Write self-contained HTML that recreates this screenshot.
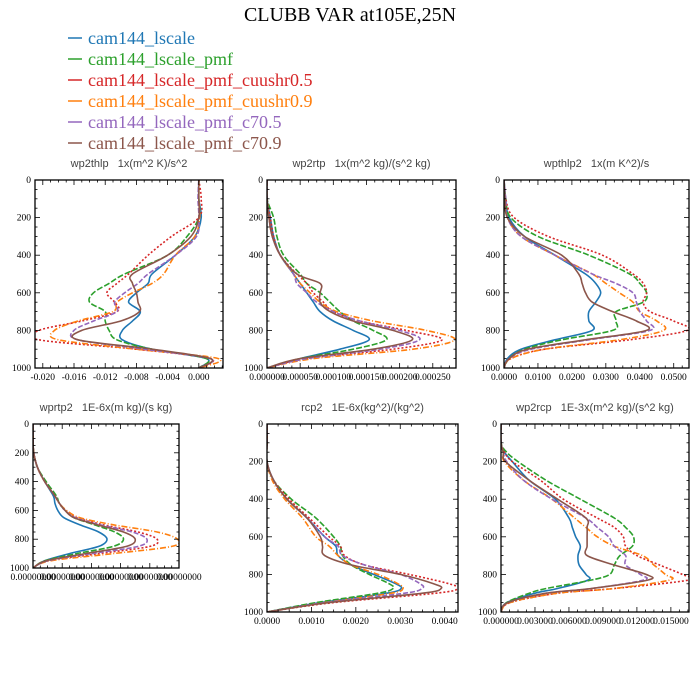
<!DOCTYPE html>
<html><head><meta charset="utf-8"><style>
body{margin:0;background:#fff}
svg{display:block}
.t{font-family:"Liberation Serif",serif;font-size:9.5px;fill:#000}
.pt{font-family:"Liberation Sans",sans-serif;font-size:11px;fill:#444;white-space:pre}
.lg{font-family:"Liberation Serif",serif;font-size:18px}
</style></head><body>
<svg id="chart" width="700" height="700" viewBox="0 0 700 700">
<text x="350" y="21" text-anchor="middle" font-family="Liberation Serif, serif" font-size="20">CLUBB VAR at105E,25N</text>
<g id="legend"></g>
<g id="panels"></g>
</svg>
<script>
const seriesNames=["cam144_lscale","cam144_lscale_pmf","cam144_lscale_pmf_cuushr0.5","cam144_lscale_pmf_cuushr0.9","cam144_lscale_pmf_c70.5","cam144_lscale_pmf_c70.9"];
const colors=["#1f77b4","#2ca02c","#d62728","#ff7f0e","#9467bd","#8c564b"];
const dashes=["","6,2","2,2","6,2,1,2","5,2",""];
const yTicks=[0,200,400,600,800,1000];

// wp2thlp
const p1Levels=[0,100,200,300,400,500,550,600,650,700,750,800,850,900,950,1000];
const p1Blue=[0,0,0.0003,-0.0005,-0.003,-0.006,-0.0065,-0.008,-0.009,-0.0075,-0.0085,-0.0098,-0.0098,-0.006,0.001,0];
const p1Green=[0,0,0,-0.0015,-0.004,-0.0095,-0.0115,-0.0135,-0.014,-0.012,-0.012,-0.0115,-0.0105,-0.006,0.001,0];
const p1Red=[0,0.0003,0,-0.0035,-0.0065,-0.009,-0.0105,-0.0118,-0.0108,-0.0105,-0.015,-0.0205,-0.0205,-0.008,0.0015,0];
const p1Orange=[0,0,0.0001,-0.0005,-0.003,-0.0045,-0.006,-0.0085,-0.0105,-0.011,-0.0155,-0.0185,-0.018,-0.008,0.0025,0];
const p1Purple=[0,-0.0001,0,-0.0003,-0.003,-0.0065,-0.0078,-0.0095,-0.0108,-0.0105,-0.0135,-0.016,-0.0155,-0.007,0.0015,0];
const p1Brown=[0,0,0,-0.001,-0.004,-0.0085,-0.0085,-0.008,-0.0078,-0.0076,-0.01,-0.015,-0.0155,-0.006,0.0015,0];
const p1TickVals=[-0.020,-0.016,-0.012,-0.008,-0.004,0.000];
const p1TickLabels=["-0.020","-0.016","-0.012","-0.008","-0.004","0.000"];

// wp2rtp (1e-5 units)
const p2Levels=[0,100,200,300,400,500,550,600,650,700,750,800,850,900,950,1000];
const p2Blue=[0,0,0.5,1,2,4,5,6,7,8,10,13,15.4,11,5,0];
const p2Green=[0,0,1,1.5,2.5,5,6,8,9.5,11,13,16,18,13,5,0];
const p2Red=[0,0,0.5,1,2,4.5,6,7,8.5,10,14,21,26.4,19,6,0];
const p2Orange=[0,0,0.3,0.8,2,4,5,6.5,8,10.5,16,24,28.3,22,7,0];
const p2Purple=[0,0,0.3,0.8,2,4,4.5,6,7.5,10,14,20,23,17,6,0];
const p2Brown=[0,0,0.3,0.8,2,4.5,8,8,8,9.5,13,19,21.9,16,5,0];
const p2TickVals=[0,5,10,15,20,25];
const p2TickLabels=["0.000000","0.000050","0.000100","0.000150","0.000200","0.000250"];

// wpthlp2 (1e-3 units)
const p3Levels=[0,100,200,300,400,500,550,600,650,700,750,800,850,900,950,1000];
const p3Blue=[0,0.5,1.5,6,15,24,27,28.5,27,25,25,26,15,5,1,0];
const p3Green=[0,0.5,2,10,25,37,40,42,41,33,33,32,17,6,1.5,0];
const p3Red=[0,0.5,3,13,29,38,41,42,41,43,50,54,37,12,2,0];
const p3Orange=[0,0.3,1,5,15,26,30,34,38,40,45,47,34,12,2,0];
const p3Purple=[0,0.5,1,5,15,26,33,38,39,40,42,43,25,8,1.5,0];
const p3Brown=[0,0.3,1,6,17,22,23,24,26,32,39,42,24,7,1.5,0];
const p3TickVals=[0,10,20,30,40,50];
const p3TickLabels=["0.0000","0.0100","0.0200","0.0300","0.0400","0.0500"];

// wprtp2
const p4Levels=[0,100,200,300,400,500,550,600,650,700,750,800,850,900,950,1000];
const p4Blue=[0,0,0.5,3,8,14,15,17,21,32,45,50.7,45,25,8,0];
const p4Green=[0,0,0.5,3,9,16,18,22,28,42,56,62,55,30,8,0];
const p4Red=[0,0,0.5,3,8,15,18,22,30,48,72,85,80,45,10,0];
const p4Orange=[0,0,0.5,3,8,15,18,23,32,55,85,99,95,55,12,0];
const p4Purple=[0,0,0.5,3,8,15,18,22,29,46,68,78,72,40,10,0];
const p4Brown=[0,0,0.5,3,8,15,18,22,28,44,62,70,64,36,9,0];
const p4TickVals=[0,20,40,60,80,100];
const p4TickLabels=["0.00000000","0.00000000","0.00000000","0.00000000","0.00000000","0.00000000"];

// rcp2 (1e-4 units)
const p5Levels=[0,100,200,300,400,500,600,650,700,750,800,850,875,900,950,1000];
const p5Blue=[0,0,0,1.5,4.5,9,13,15.5,16,19,24,29,30.2,27,12,0];
const p5Green=[0,0,0,1.5,5.5,11,15,16.5,17,19,23,27.5,28.4,25,11,0];
const p5Red=[0,0,0,1.5,5,9.5,14,16.5,17.5,22,32,41,43,38,15,0];
const p5Orange=[0,0,0,1.2,4,8,11,14,16,19,25,29.5,30.6,28,13,0];
const p5Purple=[0,0,0,1.5,4.5,9,13,16,17,22,30,34.5,34.9,31,13,0];
const p5Brown=[0,0,0,1.5,4.5,9,12,12.5,13,19,30,37.5,39.2,35,14,0];
const p5TickVals=[0,10,20,30,40];
const p5TickLabels=["0.0000","0.0010","0.0020","0.0030","0.0040"];

// wp2rcp (1e-3 units)
const p6Levels=[0,100,150,200,300,400,500,550,600,650,700,750,800,830,875,900,950,1000];
const p6Blue=[0,0,0.3,1,2.5,4.8,6,6.3,6.6,7,6.8,6.9,7.5,7.7,5,3,0.5,0];
const p6Green=[0,0,0.5,1.5,4,7,10,11,11.7,11.6,10.5,10,9.6,8,4,2.5,0.5,0];
const p6Red=[0,0,0.3,1,3.5,5.5,8.5,10,10.8,11,12,14,16,16.6,10,5,0.8,0];
const p6Orange=[0,0,0.2,0.3,2,4.5,6.5,7.5,8.5,10,12.5,13.5,14.5,14.9,10,5,0.8,0];
const p6Purple=[0,0,0.2,0.5,2,4.5,7.5,8.5,9.5,10,11,11,12.3,12.6,8,4,0.6,0];
const p6Brown=[0,0,0.2,0.4,2.5,5,7.5,7.6,7.6,7.6,7.6,10,12.8,13,8,4,0.6,0];
const p6TickVals=[0,3,6,9,12,15];
const p6TickLabels=["0.000000","0.003000","0.006000","0.009000","0.012000","0.015000"];

const NS="http://www.w3.org/2000/svg";
function mk(tag,attrs,parent){const e=document.createElementNS(NS,tag);for(const k in attrs)e.setAttribute(k,attrs[k]);parent.appendChild(e);return e;}
function smoothPath(P){
 let d='M'+P[0][0].toFixed(1)+','+P[0][1].toFixed(1);
 for(let i=0;i<P.length-1;i++){
  const p0=P[Math.max(0,i-1)],p1=P[i],p2=P[i+1],p3=P[Math.min(P.length-1,i+2)];
  const c1=[p1[0]+(p2[0]-p0[0])/6,p1[1]+(p2[1]-p0[1])/6];
  const c2=[p2[0]-(p3[0]-p1[0])/6,p2[1]-(p3[1]-p1[1])/6];
  d+=' C'+c1.map(v=>v.toFixed(1)).join(',')+' '+c2.map(v=>v.toFixed(1)).join(',')+' '+p2[0].toFixed(1)+','+p2[1].toFixed(1);
 }
 return d;
}

const panels=[
 {name:"wp2thlp",title:"wp2thlp   1x(m^2 K)/s^2",x0:35,x1:223,y0:180,y1:368,xmin:-0.021,xmax:0.0031,levels:p1Levels,series:[p1Blue,p1Green,p1Red,p1Orange,p1Purple,p1Brown],tv:p1TickVals,tl:p1TickLabels,minor:0.001},
 {name:"wp2rtp",title:"wp2rtp   1x(m^2 kg)/(s^2 kg)",x0:267,x1:456,y0:180,y1:368,xmin:0,xmax:28.5,levels:p2Levels,series:[p2Blue,p2Green,p2Red,p2Orange,p2Purple,p2Brown],tv:p2TickVals,tl:p2TickLabels,minor:1.25},
 {name:"wpthlp2",title:"wpthlp2   1x(m K^2)/s",x0:504,x1:689,y0:180,y1:368,xmin:0,xmax:54.5,levels:p3Levels,series:[p3Blue,p3Green,p3Red,p3Orange,p3Purple,p3Brown],tv:p3TickVals,tl:p3TickLabels,minor:2.5},
 {name:"wprtp2",title:"wprtp2   1E-6x(m kg)/(s kg)",x0:33,x1:179,y0:424,y1:568,xmin:0,xmax:100,levels:p4Levels,series:[p4Blue,p4Green,p4Red,p4Orange,p4Purple,p4Brown],tv:p4TickVals,tl:p4TickLabels,minor:5,small:true},
 {name:"rcp2",title:"rcp2   1E-6x(kg^2)/(kg^2)",x0:267,x1:458,y0:424,y1:612,xmin:0,xmax:43,levels:p5Levels,series:[p5Blue,p5Green,p5Red,p5Orange,p5Purple,p5Brown],tv:p5TickVals,tl:p5TickLabels,minor:2.5},
 {name:"wp2rcp",title:"wp2rcp   1E-3x(m^2 kg)/(s^2 kg)",x0:501,x1:689,y0:424,y1:612,xmin:0,xmax:16.6,levels:p6Levels,series:[p6Blue,p6Green,p6Red,p6Orange,p6Purple,p6Brown],tv:p6TickVals,tl:p6TickLabels,minor:0.75}
];

const root=document.getElementById('panels');
panels.forEach(p=>{
 const g=mk('g',{},root);
 
 
 const xs=v=>p.x0+(v-p.xmin)/(p.xmax-p.xmin)*(p.x1-p.x0);
 const ys=v=>p.y0+v/1000*(p.y1-p.y0);
 const t=mk('text',{x:(p.x0+p.x1)/2,y:p.y0-13,'text-anchor':'middle',class:'pt','xml:space':'preserve'},g);
 if(p.small)t.setAttribute('font-size','9.5');
 t.textContent=p.title;
 
 
 const cid='c'+p.name;
 const cp=mk('clipPath',{id:cid},g);mk('rect',{x:p.x0,y:p.y0,width:p.x1-p.x0,height:p.y1-p.y0},cp);
 const lg=mk('g',{'clip-path':'url(#'+cid+')'},g);
 p.series.forEach((s,i)=>{
  const P=s.map((v,j)=>[xs(v),ys(p.levels[j])]);
  const pl=mk('path',{d:smoothPath(P),fill:'none',stroke:colors[i],'stroke-width':1.6,'stroke-linejoin':'round'},lg);
  if(dashes[i])pl.setAttribute('stroke-dasharray',dashes[i]);
  
  
 });
 const fr=mk('rect',{x:p.x0,y:p.y0,width:p.x1-p.x0,height:p.y1-p.y0,fill:'none',stroke:'#000','stroke-width':1.3},g);
 
 
 for(let v=0;v<=1000;v+=50){
  const major=v%200===0;const L=major?5:2.5;const y=ys(v);
  mk('line',{x1:p.x0,x2:p.x0+L,y1:y,y2:y,stroke:'#000','stroke-width':0.8},g);
  mk('line',{x1:p.x1,x2:p.x1-L,y1:y,y2:y,stroke:'#000','stroke-width':0.8},g);
 }
 yTicks.forEach(v=>{
  const tx=mk('text',{x:p.x0-4,y:ys(v)+3,'text-anchor':'end',class:'t'},g);
  tx.textContent=String(v);
  
  
 });
 const start=Math.ceil(p.xmin/p.minor);
 for(let k=start;k*p.minor<=p.xmax+1e-12;k++){
  const v=k*p.minor;const x=xs(v);
  const major=p.tv.some(tv=>Math.abs(tv-v)<p.minor*0.1);const L=major?5:2.5;
  mk('line',{x1:x,x2:x,y1:p.y1,y2:p.y1-L,stroke:'#000','stroke-width':0.8},g);
  mk('line',{x1:x,x2:x,y1:p.y0,y2:p.y0+L,stroke:'#000','stroke-width':0.8},g);
 }
 p.tv.forEach((v,i)=>{
  const tx=mk('text',{x:xs(v),y:p.y1+12,'text-anchor':'middle',class:'t'},g);
  tx.textContent=p.tl[i];
  
  
 });
});

const leg=document.getElementById('legend');
seriesNames.forEach((n,i)=>{
 const y=38+i*21;
 const ln=mk('line',{x1:68,x2:82,y1:y,y2:y,stroke:colors[i],'stroke-width':1.5},leg);
 
 
 const tx=mk('text',{x:88,y:y+6,class:'lg',fill:colors[i]},leg);
 tx.textContent=n;
 
 
});
</script>
</body></html>
